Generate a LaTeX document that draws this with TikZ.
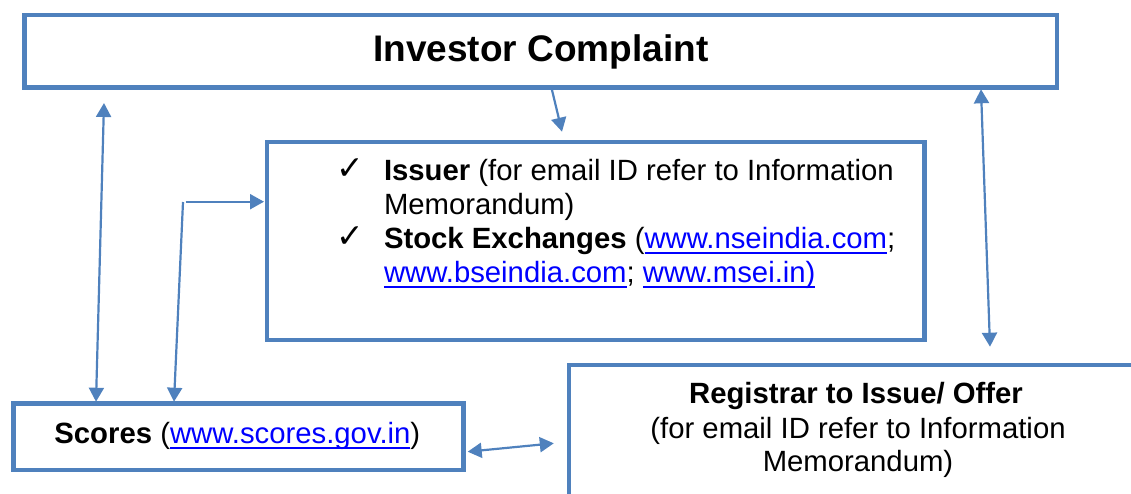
\documentclass[tikz,border=0pt]{standalone}
\usepackage{fontspec}
\setmainfont{Liberation Sans}
\newfontfamily\symfont{DejaVu Sans}
\usetikzlibrary{arrows.meta,calc}
\definecolor{boxblue}{HTML}{4F81BD}
\definecolor{linkblue}{HTML}{0000FF}
\newcommand\lnk[1]{{\color{linkblue}\setbox0\hbox{#1}\rlap{\rule[-5.5pt]{\wd0}{2pt}}\box0}}
\newcommand\bodyfont{\fontsize{29.3}{34}\selectfont}
\newcommand\chk{{\symfont\fontsize{33}{34}\selectfont ✓}}
\tikzset{
  frame/.style={draw=boxblue, line width=4.8pt, outer sep=0pt, inner sep=0pt, anchor=north west, rectangle},
  conn/.style={draw=boxblue, line width=2.2pt, -{Triangle[length=14pt,width=15pt]}},
  dconn/.style={draw=boxblue, line width=2.2pt, {Triangle[length=14pt,width=15pt]}-{Triangle[length=14pt,width=15pt]}},
  txt/.style={inner sep=0pt, outer sep=0pt, font=\bodyfont},
}
\begin{document}
\begin{tikzpicture}[x=1pt,y=-1pt]
\useasboundingbox (0,0) rectangle (1131,493);
\clip (0,0) rectangle (1131,493);
% boxes
\node[frame, minimum width=1032.5pt, minimum height=72.5pt] (top) at (24.5,15) {};
\node[frame, minimum width=657.5pt, minimum height=198pt] (mid) at (267,142) {};
\node[frame, minimum width=450.2pt, minimum height=66.8pt] (scores) at (13.3,403.2) {};
\node[frame, minimum width=620pt, minimum height=200pt] (reg) at (569,365) {};
% texts
\node[txt, anchor=base, font=\fontsize{37}{40}\selectfont\bfseries] (ttl) at (540.8,61.7) {Investor Complaint};
\node[txt, anchor=base west] (c1) at (336,179) {\chk};
\node[txt, anchor=base west] (l1) at (384,180) {\textbf{Issuer} (for email ID refer to Information};
\node[txt, anchor=base west] (l2) at (384,214) {Memorandum)};
\node[txt, anchor=base west] (c2) at (336,247) {\chk};
\node[txt, anchor=base west] (l3) at (384,248) {\textbf{Stock Exchanges} (\lnk{www.nseindia.com};};
\node[txt, anchor=base west] (l4) at (384,282) {\lnk{www.bseindia.com}; \lnk{www.msei.in)}};
\node[txt, anchor=base] (st) at (237.3,443.3) {\textbf{Scores} (\lnk{www.scores.gov.in})};
\node[txt, anchor=base, font=\bodyfont\bfseries] (r1) at (856,403.3) {Registrar to Issue/ Offer};
\node[txt, anchor=base] (r2) at (858,438.3) {(for email ID refer to Information};
\node[txt, anchor=base] (r3) at (858,471.7) {Memorandum)};
% connector points
\coordinate (a1s) at ($(top.south west)+(527.5,2.5)$);
\coordinate (a1e) at ($(mid.north west)+(295,-10.3)$);
\coordinate (a2s) at ($(top.south west)+(79.5,15.5)$);
\coordinate (a2e) at ($(scores.north west)+(82.7,-1.5)$);
\coordinate (a3c) at ($(mid.north west)+(-84,60)$);
\coordinate (a3h) at ($(a3c)+(2.6,-0.3)$);
\coordinate (a3v) at ($(scores.north west)+(160.7,-1.5)$);
\coordinate (a3m) at ($(mid.north west)+(-3,59.7)$);
\coordinate (a4s) at ($(top.south west)+(956.5,1.8)$);
\coordinate (a4e) at ($(reg.north west)+(421,-18.3)$);
\coordinate (a5s) at ($(scores.north east)+(4.2,48.5)$);
\coordinate (a5e) at ($(reg.north west)+(-15.2,78.3)$);
% connectors
\draw[conn] (a1s) -- (a1e);
\draw[dconn] (a2s) -- (a2e);
\draw[conn] (a3c) -- (a3v);
\draw[conn] (a3h) -- (a3m);
\draw[dconn] (a4s) -- (a4e);
\draw[dconn] (a5s) -- (a5e);
\end{tikzpicture}
\end{document}
